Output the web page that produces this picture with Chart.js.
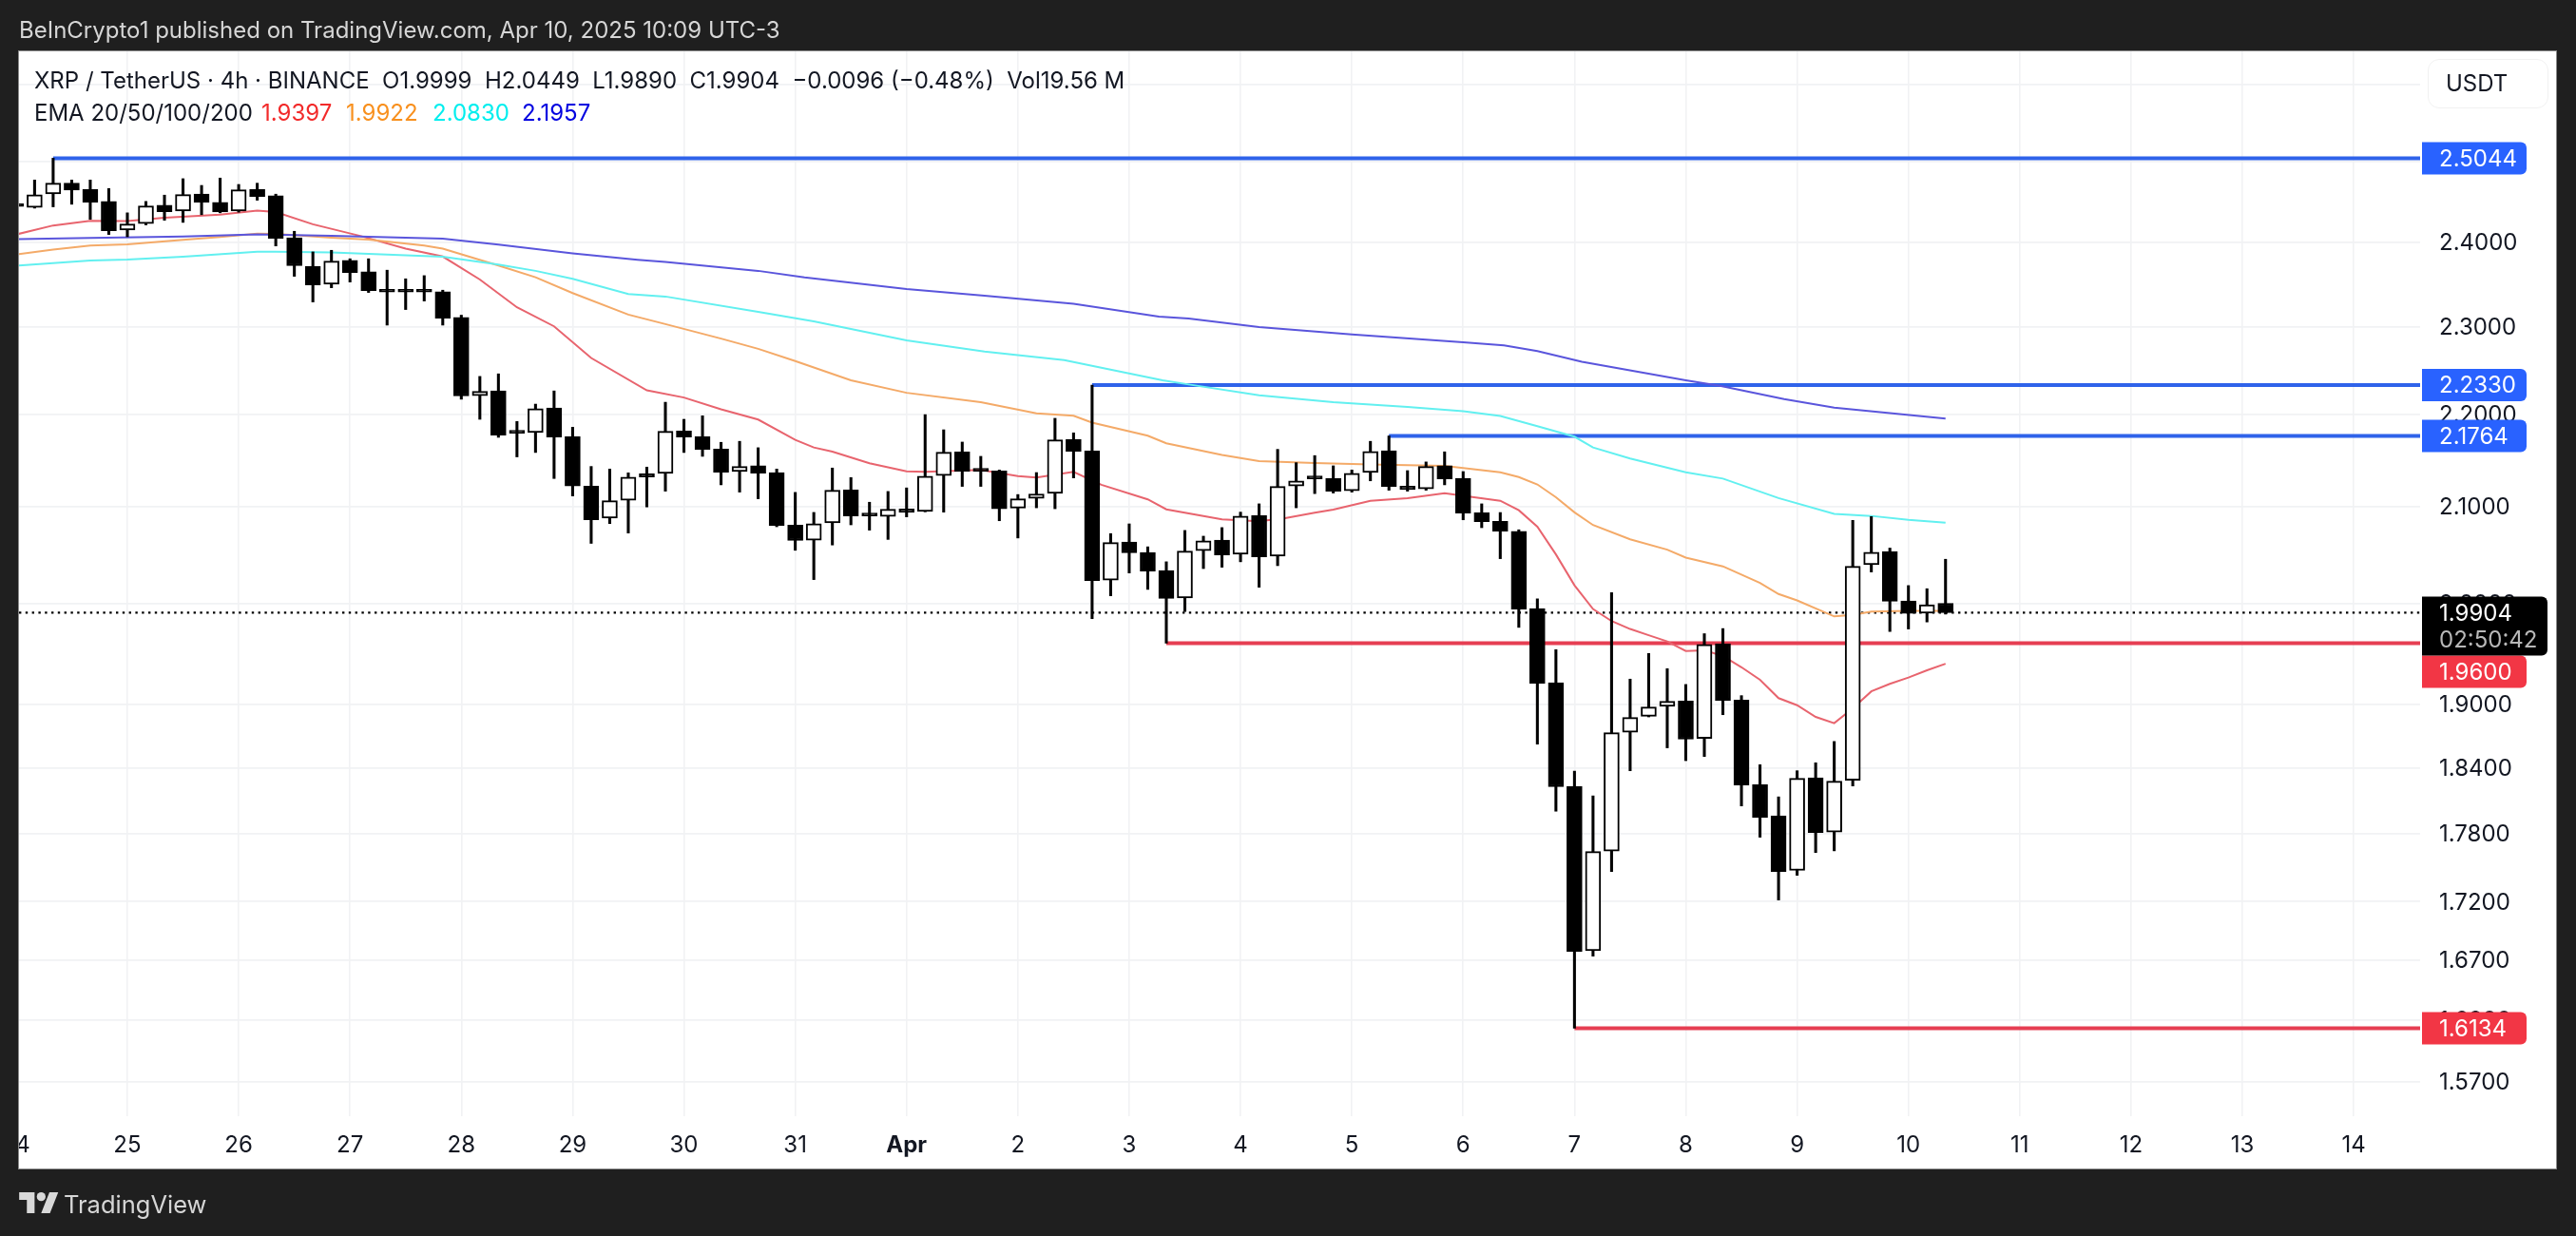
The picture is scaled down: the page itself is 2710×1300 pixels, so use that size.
<!DOCTYPE html>
<html><head><meta charset="utf-8"><title>XRP / TetherUS</title>
<style>
html,body{margin:0;padding:0;background:#1f1f1f;width:2710px;height:1300px;overflow:hidden}
canvas{position:absolute;left:0;top:0}
.t{position:absolute;white-space:pre;font-family:Inter,sans-serif;line-height:1}
</style>
<script src="https://cdn.jsdelivr.net/npm/chart.js@4"></script>
</head><body>
<canvas id="c" width="2710" height="1300"></canvas>
<div class="t" style="left:20px;top:20px;font-size:24px;color:#d6d6d6">BeInCrypto1 published on TradingView.com, Apr 10, 2025 10:09 UTC-3</div>
<div class="t" id="l1" style="left:36px;top:73px;font-size:24px;color:#131722">XRP / TetherUS · 4h · BINANCE  O1.9999  H2.0449  L1.9890  C1.9904  −0.0096 (−0.48%)  Vol19.56 M</div>
<div class="t" style="left:36px;top:107px;font-size:24px;color:#131722">EMA 20/50/100/200</div>
<div class="t" style="left:275px;top:107px;font-size:24px;color:#f22a2a">1.9397</div>
<div class="t" style="left:364px;top:107px;font-size:24px;color:#f8901e">1.9922</div>
<div class="t" style="left:455px;top:107px;font-size:24px;color:#00eeee">2.0830</div>
<div class="t" style="left:549px;top:107px;font-size:24px;color:#0000e0">2.1957</div>
<div style="position:absolute;left:2554px;top:62px;width:127px;height:52px;border:1.5px solid #f1f1f1;border-radius:12px;box-sizing:border-box"></div>
<div class="t" style="left:2573px;top:76px;font-size:24px;color:#131722">USDT</div>
<svg style="position:absolute;left:20px;top:1254px" width="42" height="22" viewBox="0 0 36 19"><path fill="#d8d8d8" d="M14 19H7V7H0V0h14zM28 19h-8L27.500 0h8z"/><circle fill="#d8d8d8" cx="20" cy="4" r="4"/></svg>
<div class="t" style="left:67px;top:1254px;font-size:25.500px;color:#d6d6d6">TradingView</div>
<script>
const opens=[2.446,2.4429,2.4596,2.4730,2.4651,2.4502,2.4151,2.4230,2.4455,2.4386,2.4596,2.4491,2.4386,2.4651,2.4573,2.4058,2.3712,2.3498,2.3783,2.3646,2.3431,2.3416,2.3420,2.3409,2.3108,2.2212,2.2265,2.1811,2.1801,2.2074,2.1756,2.1220,2.0879,2.1068,2.1352,2.1355,2.1819,2.1756,2.1621,2.1376,2.1438,2.1365,2.0805,2.0647,2.0828,2.1179,2.0916,2.0896,2.0976,2.0949,2.1334,2.1590,2.1393,2.1383,2.0985,2.1088,2.1142,2.1725,2.1600,2.0234,2.0627,2.0519,2.0334,2.0054,2.0538,2.0647,2.0502,2.0906,2.0482,2.1220,2.1314,2.1301,2.1169,2.1365,2.1603,2.1220,2.1189,2.1438,2.1304,2.0936,2.0845,2.0739,1.9945,1.9211,1.8231,1.6778,1.7644,1.8736,1.8889,1.8983,1.9036,1.8679,1.9594,1.9045,1.8247,1.7961,1.7473,1.8310,1.7816,1.8288,2.0394,2.0529,2.0023,1.9900,1.9999];
const highs=[2.450,2.4770,2.5044,2.4770,2.4770,2.4663,2.4362,2.4503,2.4581,2.4786,2.4702,2.4794,2.4714,2.4730,2.4593,2.4136,2.3886,2.3905,2.3803,2.3803,2.3666,2.3563,2.3601,2.3428,2.3134,2.2429,2.2458,2.1924,2.2117,2.2265,2.1860,2.1431,2.1403,2.1362,2.1424,2.2138,2.1948,2.1987,2.1694,2.1705,2.1635,2.1403,2.1152,2.0939,2.1414,2.1311,2.1047,2.1162,2.1200,2.2000,2.1832,2.1697,2.1541,2.1393,2.1129,2.1365,2.1959,2.1798,2.2330,2.0716,2.0818,2.0578,2.0423,2.0749,2.0689,2.0779,2.0942,2.1030,2.1617,2.1472,2.1549,2.1438,2.1393,2.1705,2.1764,2.1386,2.1480,2.1590,2.1376,2.1030,2.0938,2.0756,2.0044,1.9536,1.8373,1.8144,2.0108,1.9247,1.9498,1.9349,1.9195,1.9694,1.9745,1.9087,1.8432,1.8135,1.8376,1.8450,1.8650,2.0855,2.0895,2.0565,2.0179,2.0147,2.0449];
const lows=[2.440,2.4420,2.4436,2.4468,2.4282,2.4097,2.4069,2.4214,2.4271,2.4245,2.4339,2.4362,2.4370,2.4518,2.3958,2.3593,2.3289,2.3457,2.3525,2.3401,2.3018,2.3200,2.3300,2.3018,2.2172,2.1948,2.1749,2.1535,2.1583,2.1301,2.1114,2.0614,2.0821,2.0722,2.0997,2.1165,2.1583,2.1541,2.1233,2.1155,2.1084,2.0788,2.0542,2.0240,2.0597,2.0808,2.0752,2.0655,2.0892,2.0945,2.0942,2.1216,2.1216,2.0851,2.0670,2.0988,2.0978,2.1307,1.9844,2.0075,2.0308,2.0140,1.9600,1.9916,2.0353,2.0367,2.0423,2.0162,2.0383,2.0988,2.1139,2.1145,2.1155,2.1276,2.1175,2.1165,2.1175,2.1233,2.0861,2.0778,2.0455,1.9757,1.8625,1.8004,1.6134,1.6732,1.7464,1.8376,1.8883,1.8590,1.8470,1.8509,1.8904,1.8052,1.7769,1.7214,1.7430,1.7632,1.7647,1.8235,2.0318,1.9716,1.9741,1.9811,1.9890];
const closes=[2.444,2.4585,2.4730,2.4643,2.4494,2.4143,2.4225,2.4448,2.4377,2.4588,2.4494,2.4374,2.4647,2.4565,2.4050,2.3719,2.3490,2.3775,2.3639,2.3423,2.3405,2.3405,2.3405,2.3100,2.2208,2.2261,2.1773,2.1794,2.2067,2.1752,2.1220,2.0861,2.1063,2.1317,2.1317,2.1815,2.1752,2.1617,2.1368,2.1431,2.1358,2.0801,2.0644,2.0821,2.1175,2.0902,2.0902,2.0972,2.0939,2.1327,2.1586,2.1379,2.1379,2.0978,2.1084,2.1135,2.1721,2.1596,2.0230,2.0623,2.0515,2.0327,2.0048,2.0534,2.0640,2.0495,2.0899,2.0475,2.1216,2.1275,2.1297,2.1165,2.1358,2.1593,2.1216,2.1182,2.1431,2.1297,2.0932,2.0841,2.0742,1.9941,1.9207,1.8228,1.6772,1.7641,1.8733,1.8877,1.8977,1.9032,1.8671,1.9587,1.9041,1.8244,1.7949,1.7464,1.8306,1.7810,1.8280,2.0376,2.0522,2.0019,1.9896,1.9985,1.9904];

const ema20Bars=[0,2,4,6,8,11,13,14,16,18.6,21,23,25,27,29,31,34,36,38,40,42,43,44,46,48,49,52,54,55,57,58.5,61,62,65,67,68.4,70,71,73,75,77,78.4,80,81,82,83,84,85,86,87,88,89,90,91,92,93,94,95,96,97,98,99,100,101,102,103,104];
const ema20=[2.4097,2.4207,2.4265,2.4261,2.4301,2.4339,2.4389,2.4371,2.4222,2.4077,2.3925,2.3830,2.3555,2.3226,2.3004,2.2639,2.2272,2.2191,2.2060,2.1945,2.1721,2.1638,2.1593,2.1466,2.1379,2.1372,2.1393,2.1327,2.1311,2.1372,2.1233,2.1078,2.0972,2.0865,2.0845,2.0879,2.0936,2.0969,2.1063,2.1091,2.1142,2.1104,2.1063,2.0962,2.0788,2.0499,2.0182,1.9941,1.9820,1.9741,1.9679,1.9617,1.9523,1.9530,1.9473,1.9363,1.9241,1.9063,1.8995,1.8883,1.8823,1.8965,1.9128,1.9201,1.9262,1.9333,1.9397];
const ema50Bars=[0,2,4,6,9,11,13,14,17,19,22,23,26,28,30,33,35,38,40,42,45,48,52,55,57,58,61,62,65,67,70,73,75,77,80,81,82,83,84,85,87,89,90,92,94,95,96,98,99,100,102,104];
const ema50=[2.3856,2.3913,2.3962,2.3977,2.4031,2.4066,2.4108,2.4105,2.4058,2.4035,2.3962,2.3925,2.3722,2.3581,2.3394,2.3141,2.3030,2.2862,2.2744,2.2603,2.2385,2.2244,2.2138,2.2014,2.1988,2.1911,2.1767,2.1684,2.1557,2.1490,2.1467,2.1452,2.1445,2.1438,2.1368,2.1317,2.1237,2.1100,2.0940,2.0806,2.0656,2.0549,2.0466,2.0376,2.0205,2.0093,2.0028,1.9867,1.9883,1.9916,1.9922,1.9922];
const ema100Bars=[0,4,6,9,13,14,17,23,26,28,30,33,35,40,43,48,52.2,56.5,61.8,63.3,67,71,75,78,80,82,84,85,87,90,92,95,98,100,102,104];
const ema100=[2.3719,2.3783,2.3794,2.3829,2.3889,2.3889,2.3878,2.3829,2.3734,2.3658,2.3563,2.3383,2.3353,2.3174,2.3062,2.2842,2.2712,2.2614,2.2385,2.2335,2.2215,2.2138,2.2085,2.2038,2.1985,2.1871,2.1756,2.1638,2.1517,2.1368,2.1300,2.1091,2.0923,2.0902,2.0861,2.0830];
const ema200Bars=[0,4,9,13,17,23,26,30,33.5,35,40,42.5,48,52.2,57,61.6,63.2,67,72,78,80.2,82,84.4,90,91.9,95.3,98,104];
const ema200=[2.4039,2.4055,2.4073,2.4097,2.4081,2.4046,2.3974,2.3867,2.3791,2.3764,2.3658,2.3581,2.3442,2.3362,2.3267,2.3116,2.3096,2.2996,2.2910,2.2820,2.2784,2.2719,2.2595,2.2385,2.2321,2.2173,2.2077,2.1957];

const resistanceLevels=[2.5044,2.2330,2.1764];
const resistanceStarts=[2,58,74];
const supportLevels=[1.9600,1.6134];
const supportStarts=[62,84];
const lastPrice=1.9904;
const countdown='02:50:42';
const priceTicks=[2.6,2.5,2.4,2.3,2.2,2.1,2.0,1.9,1.84,1.78,1.72,1.67,1.62,1.57];
const unlabeledTicks=[2.6,2.5];
const dayBars=[0,6,12,18,24,30,36,42,48,54,60,66,72,78,84,90,96,102,108,114,120,126];
const dayLabels=['24','25','26','27','28','29','30','31','Apr','2','3','4','5','6','7','8','9','10','11','12','13','14'];

const BLUE='#2962ff',RED='#f23645',FONT='Inter, sans-serif';
const P={l:20,t:54,r:2689,b:1229,plotR:2546,plotB:1174};
const xMin=0.16,xMax=129.58,yMin=1.5432,yMax=2.6434;
const pairs=(xs,ys)=>xs.map((x,i)=>({x,y:ys[i]}));
const bars=opens.map((_,i)=>i);
const line=(data,color,order,width=2,extra={})=>Object.assign({type:'line',data,borderColor:color,borderWidth:width,pointRadius:0,tension:0,order,borderCapStyle:'butt'},extra);
const level=(v,s,color)=>line([{x:s,y:v},{x:xMax,y:v}],color,5,4);

const frame={id:'frame',
 beforeDraw(ch){const c=ch.ctx;c.save();c.fillStyle='#1f1f1f';c.fillRect(0,0,2710,1300);c.fillStyle='#fff';c.fillRect(P.l,P.t,P.r-P.l,P.b-P.t);c.restore();},
 afterDraw(ch){const c=ch.ctx,y=ch.scales.y;c.save();
  c.fillStyle='#1f1f1f';c.fillRect(0,P.t-1,P.l,P.b-P.t+2);
  c.strokeStyle='#8a8a8a';c.lineWidth=1;c.strokeRect(P.l-.5,P.t-.5,P.r-P.l+1,P.b-P.t+1);
  const tag=(v,color,dy=0)=>{const cy=y.getPixelForValue(v)+dy;c.fillStyle=color;c.beginPath();c.roundRect(2548,cy-17,110,34,[0,6,6,0]);c.fill();
    c.fillStyle='#fff';c.font='24px '+FONT;c.textAlign='left';c.textBaseline='middle';c.fillText(v.toFixed(4),2566,cy+1);};
  resistanceLevels.forEach(v=>tag(v,BLUE));
  tag(supportLevels[0],RED,30);tag(supportLevels[1],RED);
  const ly=y.getPixelForValue(lastPrice);c.fillStyle='#000';c.beginPath();c.roundRect(2548,ly-17,132,62,[0,6,6,0]);c.fill();
  c.textAlign='left';c.textBaseline='middle';c.font='24px '+FONT;c.fillStyle='#fff';c.fillText(lastPrice.toFixed(4),2566,ly+1);
  c.fillStyle='#b8b8b8';c.fillText(countdown,2566,ly+29);
  c.restore();}
};

new Chart(document.getElementById('c'),{
 type:'bar',
 data:{datasets:[
  {label:'bodies',order:0,grouped:false,barThickness:16,borderWidth:2,borderColor:'#000',borderSkipped:false,minBarLength:3,
   backgroundColor:bars.map(i=>closes[i]<opens[i]?'#000':'#fff'),
   data:bars.map(i=>({x:i,y:[opens[i],closes[i]]}))},
  {label:'wicks',order:1,grouped:false,barThickness:2.4,backgroundColor:'#000',borderWidth:0,
   data:bars.map(i=>({x:i,y:[lows[i],highs[i]]}))},
  line(pairs(ema200Bars,ema200),'#5a55dc',2),
  line(pairs(ema100Bars,ema100),'#62f0f0',2),
  line(pairs(ema50Bars,ema50),'#f4aa68',2),
  line(pairs(ema20Bars,ema20),'#e8646e',2),
  ...resistanceLevels.map((v,i)=>level(v,resistanceStarts[i],'#2f63ea')),
  ...supportLevels.map((v,i)=>level(v,supportStarts[i],'#e63e52')),
  line([{x:xMin,y:lastPrice},{x:xMax,y:lastPrice}],'#000',6,2.2,{borderDash:[2.4,4.4]})
 ]},
 options:{responsive:false,animation:false,devicePixelRatio:1,
  layout:{padding:{left:P.l,top:P.t,right:2710-P.r,bottom:1300-P.b}},
  plugins:{legend:{display:false},tooltip:{enabled:false},title:{display:false}},
  scales:{
   x:{type:'linear',min:xMin,max:xMax,offset:false,
    afterBuildTicks(s){s.ticks=dayBars.map(value=>({value}));},
    afterFit(s){s.height=P.b-P.plotB;s.paddingLeft=0;s.paddingRight=0;},
    grid:{offset:false,color:'#f1f2f4',lineWidth:1.6,drawTicks:false},border:{display:false},
    ticks:{autoSkip:false,maxRotation:0,minRotation:0,padding:16,color:'#131722',
     font:c=>({family:FONT,size:24,weight:c.tick&&c.tick.value===48?'700':'400'}),
     callback:v=>dayLabels[dayBars.indexOf(v)]??''}},
   y:{type:'logarithmic',position:'right',min:yMin,max:yMax,
    afterBuildTicks(s){s.ticks=priceTicks.map(value=>({value}));},
    afterFit(s){s.width=P.r-P.plotR;s.paddingTop=0;s.paddingBottom=0;},
    grid:{color:'#f1f2f4',lineWidth:1.8,drawTicks:false},border:{display:false},
    ticks:{autoSkip:false,padding:20,labelOffset:1,color:'#131722',font:{family:FONT,size:24},
     callback:v=>unlabeledTicks.includes(v)?'':Number(v).toFixed(4)}}
  }},
 plugins:[frame]
});
</script>
</body></html>
